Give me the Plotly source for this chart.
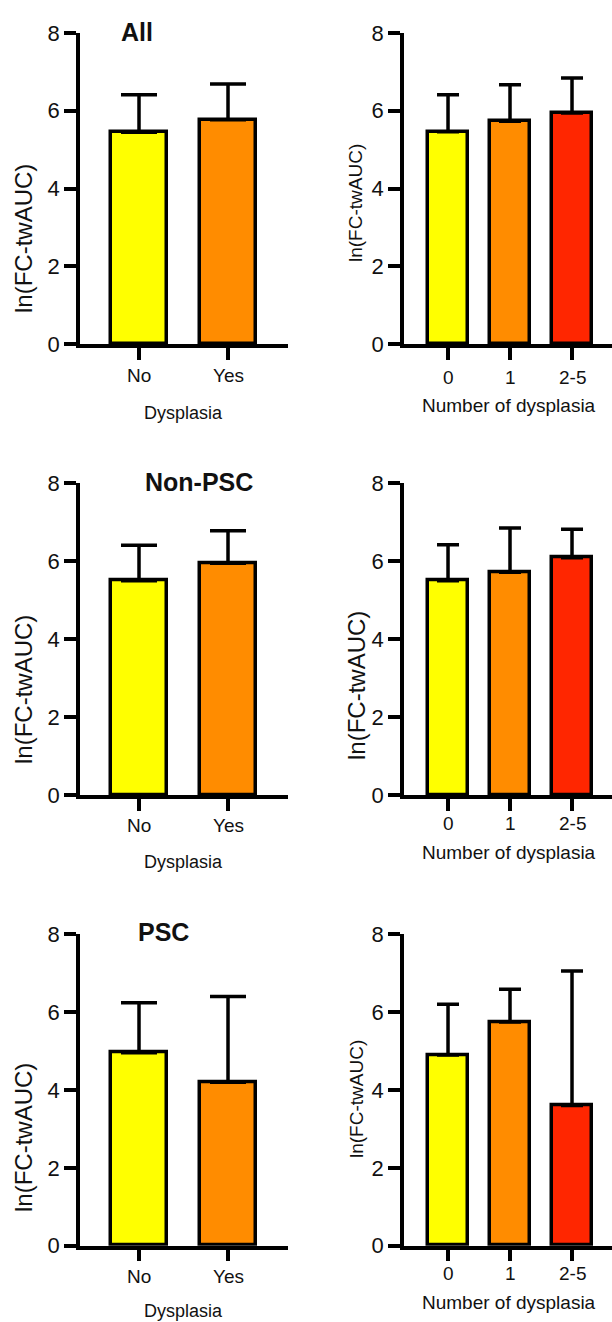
import plotly.graph_objects as go

# ---- data ----
dys_cats = ["No", "Yes"]
num_cats = ["0", "1", "2-5"]

all_dys_mean = [5.45, 5.77]
all_dys_sd = [0.96, 0.92]
all_num_mean = [5.46, 5.73, 5.94]
all_num_sd = [0.95, 0.94, 0.90]

nonpsc_dys_mean = [5.50, 5.95]
nonpsc_dys_sd = [0.91, 0.83]
nonpsc_num_mean = [5.50, 5.72, 6.09]
nonpsc_num_sd = [0.92, 1.13, 0.73]

psc_dys_mean = [4.96, 4.20]
psc_dys_sd = [1.28, 2.20]
psc_num_mean = [4.90, 5.75, 3.60]
psc_num_sd = [1.30, 0.84, 3.46]

panel_titles = ["All", "Non-PSC", "PSC"]
y_title = "ln(FC-twAUC)"
x_title_left = "Dysplasia"
x_title_right = "Number of dysplasia"
y_ticks = [0, 2, 4, 6, 8]

colors_dys = ["#FFFF00", "#FF8C00"]
colors_num = ["#FFFF00", "#FF8C00", "#FF2600"]

W, H = 612, 1322
FONT = "Arial, Liberation Sans, Helvetica, sans-serif"
LW = 3.5

rows = [
    (all_dys_mean, all_dys_sd, all_num_mean, all_num_sd),
    (nonpsc_dys_mean, nonpsc_dys_sd, nonpsc_num_mean, nonpsc_num_sd),
    (psc_dys_mean, psc_dys_sd, psc_num_mean, psc_num_sd),
]

# pixel layout of each row: (y of value 8, y of value 0)
row_px = [(33, 344), (483.3, 795), (934.3, 1245.7)]
left_px = (80, 288)
right_px = (404, 612)

# label positions (pixels)
title_pos = [(137, 32), (199, 482), (163, 932)]
ytitle_left = [239, 690, 1138]
ytitle_right = [203, 686, 1099]
ytitle_left_size = [24, 24, 24]
ytitle_right_size = [19, 24, 19]
xtick_left_y = [375, 825, 1276]
xtick_right_y = [377, 823, 1273]
xtitle_left_y = [413, 862, 1311]
xtitle_right_y = [405, 852, 1302]

fig = go.Figure()
annotations = []
layout_axes = {}


def px_x(p):
    return p / W


def px_y(p):
    return 1 - p / H


idx = 0
for r, (dm, ds, nm, ns) in enumerate(rows):
    ytop, ybot = row_px[r]
    for c in range(2):
        idx += 1
        xa = "x" if idx == 1 else f"x{idx}"
        ya = "y" if idx == 1 else f"y{idx}"
        if c == 0:
            means, sds, cats, cols = dm, ds, dys_cats, colors_dys
            xr = [-0.663, 1.674]
            bw = 0.63
            capw = 18
            dom = left_px
            tick_y = xtick_left_y[r]
        else:
            means, sds, cats, cols = nm, ns, num_cats, colors_num
            xr = [-0.71, 2.645]
            bw = 0.645
            capw = 11
            dom = right_px
            tick_y = xtick_right_y[r]
        xs = list(range(len(cats)))
        fig.add_trace(go.Bar(
            x=xs, y=means, width=bw,
            marker=dict(color=cols, line=dict(color="black", width=LW)),
            error_y=dict(type="data", symmetric=False, array=sds,
                         arrayminus=[0] * len(sds), thickness=LW,
                         width=capw, color="black"),
            xaxis=xa, yaxis=ya, showlegend=False,
        ))
        layout_axes["xaxis" if idx == 1 else f"xaxis{idx}"] = dict(
            domain=[px_x(dom[0]), px_x(dom[1])], anchor=ya,
            range=xr, tickmode="array", tickvals=xs, ticktext=cats,
            ticks="outside", ticklen=12, tickwidth=LW, tickcolor="black",
            showline=True, linewidth=LW, linecolor="black",
            showgrid=False, zeroline=False, fixedrange=True,
            showticklabels=False, automargin=False,
        )
        layout_axes["yaxis" if idx == 1 else f"yaxis{idx}"] = dict(
            domain=[px_y(ybot), px_y(ytop)], anchor=xa,
            range=[0, 8], tickmode="array", tickvals=y_ticks,
            ticks="outside", ticklen=12, tickwidth=LW, tickcolor="black",
            showline=True, linewidth=LW, linecolor="black",
            showgrid=False, zeroline=False, fixedrange=True,
            automargin=False,
            tickfont=dict(family=FONT, size=22, color="#111"),
        )
        # x tick labels placed under each bar
        for xv, lab in zip(xs, cats):
            annotations.append(dict(
                text=lab, x=xv, xref=xa, y=px_y(tick_y), yref="paper",
                showarrow=False, xanchor="center", yanchor="middle",
                font=dict(family=FONT, size=19, color="#111")))
        if c == 0:
            annotations.append(dict(
                text=y_title, x=px_x(23), y=px_y(ytitle_left[r]),
                xref="paper", yref="paper", textangle=-90, showarrow=False,
                xanchor="center", yanchor="middle",
                font=dict(family=FONT, size=ytitle_left_size[r], color="#111")))
            annotations.append(dict(
                text=x_title_left, x=px_x(183.5), y=px_y(xtitle_left_y[r]),
                xref="paper", yref="paper", showarrow=False,
                xanchor="center", yanchor="middle",
                font=dict(family=FONT, size=18, color="#111")))
            annotations.append(dict(
                text=f"<b>{panel_titles[r]}</b>", x=px_x(title_pos[r][0]),
                y=px_y(title_pos[r][1]), xref="paper", yref="paper",
                showarrow=False, xanchor="center", yanchor="middle",
                font=dict(family=FONT, size=25, color="#111")))
        else:
            annotations.append(dict(
                text=y_title, x=px_x(356), y=px_y(ytitle_right[r]),
                xref="paper", yref="paper", textangle=-90, showarrow=False,
                xanchor="center", yanchor="middle",
                font=dict(family=FONT, size=ytitle_right_size[r], color="#111")))
            annotations.append(dict(
                text=x_title_right, x=px_x(509), y=px_y(xtitle_right_y[r]),
                xref="paper", yref="paper", showarrow=False,
                xanchor="center", yanchor="middle",
                font=dict(family=FONT, size=19, color="#111")))

fig.update_layout(
    template="none",
    width=W, height=H,
    margin=dict(l=0, r=0, t=0, b=0, pad=0, autoexpand=False),
    paper_bgcolor="white", plot_bgcolor="white",
    annotations=annotations,
    bargap=0, showlegend=False,
    **layout_axes,
)

fig.write_html(
    "out.html",
    config={"displayModeBar": False},
    post_script="document.body.style.margin='0';document.body.style.padding='0';document.body.style.overflow='hidden';",
)
